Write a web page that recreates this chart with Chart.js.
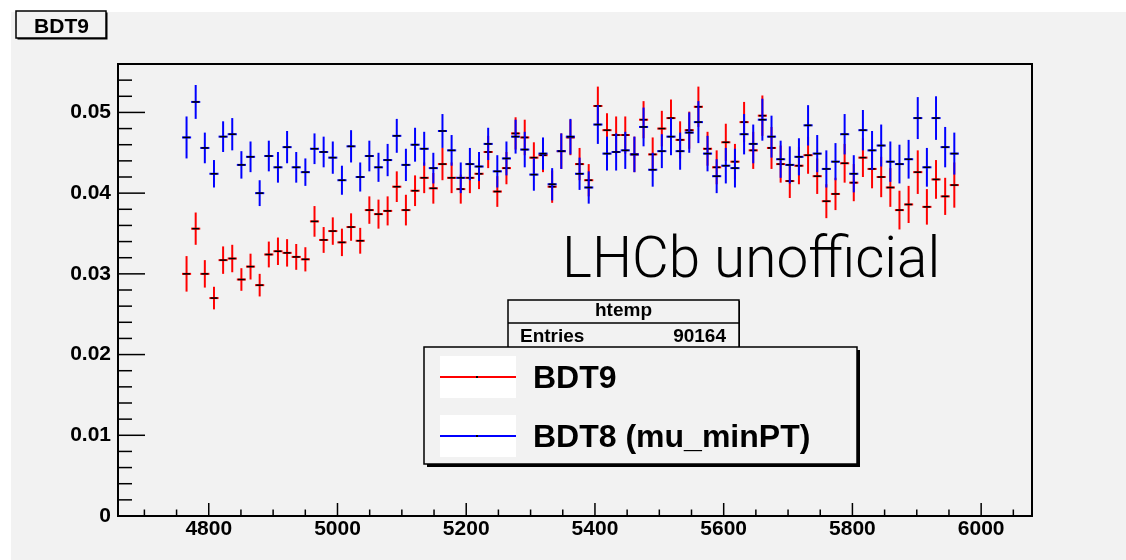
<!DOCTYPE html>
<html>
<head>
<meta charset="utf-8">
<script src="https://cdn.jsdelivr.net/npm/chart.js@4.4.0/dist/chart.umd.min.js"></script>
<style>
  html, body { margin: 0; padding: 0; background: #ffffff; }
  canvas { display: block; }
</style>
</head>
<body>
<canvas id="bdtChart" width="1126" height="560"></canvas>
<script>
// filled bin centres of htemp (100 bins, 4659 .. 6079)
var massBins = [
  4765.5, 4779.7, 4793.9, 4808.1, 4822.3, 4836.5, 4850.7, 4864.9, 4879.1, 4893.3,
  4907.5, 4921.7, 4935.9, 4950.1, 4964.3, 4978.5, 4992.7, 5006.9, 5021.1, 5035.3,
  5049.5, 5063.7, 5077.9, 5092.1, 5106.3, 5120.5, 5134.7, 5148.9, 5163.1, 5177.3,
  5191.5, 5205.7, 5219.9, 5234.1, 5248.3, 5262.5, 5276.7, 5290.9, 5305.1, 5319.3,
  5333.5, 5347.7, 5361.9, 5376.1, 5390.3, 5404.5, 5418.7, 5432.9, 5447.1, 5461.3,
  5475.5, 5489.7, 5503.9, 5518.1, 5532.3, 5546.5, 5560.7, 5574.9, 5589.1, 5603.3,
  5617.5, 5631.7, 5645.9, 5660.1, 5674.3, 5688.5, 5702.7, 5716.9, 5731.1, 5745.3,
  5759.5, 5773.7, 5787.9, 5802.1, 5816.3, 5830.5, 5844.7, 5858.9, 5873.1, 5887.3,
  5901.5, 5915.7, 5929.9, 5944.1, 5958.3
];
var binHalfWidth = 7.1;

// BDT9 (normalised)
var bdt9 = [
  0.0300, 0.0356, 0.0300, 0.0270, 0.0317, 0.0319, 0.0293, 0.0309, 0.0286, 0.0324,
  0.0328, 0.0326, 0.0321, 0.0318, 0.0365, 0.0342, 0.0353, 0.0339, 0.0358, 0.0341,
  0.0379, 0.0374, 0.0378, 0.0408, 0.0379, 0.0403, 0.0419, 0.0406, 0.0436, 0.0419,
  0.0405, 0.0419, 0.0424, 0.0451, 0.0402, 0.0431, 0.0474, 0.0469, 0.0444, 0.0447,
  0.0408, 0.0452, 0.0469, 0.0436, 0.0416, 0.0508, 0.0478, 0.0472, 0.0472, 0.0448,
  0.0491, 0.0448, 0.0480, 0.0493, 0.0466, 0.0478, 0.0507, 0.0455, 0.0432, 0.0463,
  0.0439, 0.0488, 0.0453, 0.0496, 0.0456, 0.0436, 0.0415, 0.0434, 0.0447, 0.0421,
  0.0390, 0.0399, 0.0437, 0.0413, 0.0444, 0.0430, 0.0420, 0.0407, 0.0379, 0.0386,
  0.0426, 0.0383, 0.0417, 0.0396, 0.0410
];
var bdt9Err = [
  0.0022, 0.0020, 0.0017, 0.0014, 0.0017, 0.0017, 0.0014, 0.0016, 0.0014, 0.0016,
  0.0017, 0.0017, 0.0016, 0.0015, 0.0019, 0.0016, 0.0017, 0.0017, 0.0017, 0.0016,
  0.0017, 0.0018, 0.0018, 0.0019, 0.0019, 0.0019, 0.0019, 0.0019, 0.0020, 0.0019,
  0.0018, 0.0019, 0.0019, 0.0020, 0.0019, 0.0020, 0.0020, 0.0022, 0.0019, 0.0021,
  0.0020, 0.0022, 0.0022, 0.0020, 0.0020, 0.0024, 0.0021, 0.0023, 0.0023, 0.0022,
  0.0023, 0.0021, 0.0022, 0.0023, 0.0023, 0.0023, 0.0025, 0.0021, 0.0021, 0.0023,
  0.0022, 0.0025, 0.0023, 0.0025, 0.0026, 0.0023, 0.0021, 0.0023, 0.0023, 0.0022,
  0.0021, 0.0020, 0.0024, 0.0023, 0.0024, 0.0024, 0.0025, 0.0024, 0.0024, 0.0023,
  0.0027, 0.0022, 0.0024, 0.0023, 0.0028
];

// BDT8 (mu_minPT)
var bdt8 = [
  0.0469, 0.0513, 0.0456, 0.0424, 0.0470, 0.0473, 0.0435, 0.0445, 0.0400, 0.0446,
  0.0432, 0.0457, 0.0432, 0.0426, 0.0455, 0.0451, 0.0444, 0.0416, 0.0458, 0.0420,
  0.0446, 0.0432, 0.0441, 0.0471, 0.0435, 0.0460, 0.0455, 0.0431, 0.0477, 0.0453,
  0.0419, 0.0436, 0.0433, 0.0461, 0.0427, 0.0443, 0.0470, 0.0454, 0.0423, 0.0449,
  0.0411, 0.0452, 0.0470, 0.0424, 0.0407, 0.0485, 0.0449, 0.0451, 0.0453, 0.0448,
  0.0482, 0.0429, 0.0452, 0.0470, 0.0452, 0.0475, 0.0488, 0.0449, 0.0421, 0.0434,
  0.0431, 0.0473, 0.0461, 0.0491, 0.0470, 0.0442, 0.0435, 0.0445, 0.0484, 0.0449,
  0.0430, 0.0439, 0.0473, 0.0424, 0.0478, 0.0453, 0.0459, 0.0439, 0.0436, 0.0442,
  0.0493, 0.0432, 0.0493, 0.0457, 0.0449
];
var bdt8Err = [
  0.0026, 0.0021, 0.0019, 0.0017, 0.0019, 0.0020, 0.0017, 0.0019, 0.0016, 0.0019,
  0.0019, 0.0020, 0.0019, 0.0017, 0.0019, 0.0019, 0.0020, 0.0018, 0.0020, 0.0018,
  0.0019, 0.0018, 0.0020, 0.0021, 0.0020, 0.0021, 0.0021, 0.0019, 0.0021, 0.0019,
  0.0019, 0.0020, 0.0018, 0.0020, 0.0020, 0.0021, 0.0021, 0.0022, 0.0020, 0.0020,
  0.0020, 0.0022, 0.0022, 0.0020, 0.0020, 0.0024, 0.0021, 0.0023, 0.0023, 0.0022,
  0.0024, 0.0021, 0.0021, 0.0023, 0.0023, 0.0025, 0.0026, 0.0022, 0.0021, 0.0022,
  0.0024, 0.0025, 0.0024, 0.0026, 0.0026, 0.0023, 0.0023, 0.0023, 0.0025, 0.0023,
  0.0023, 0.0023, 0.0025, 0.0023, 0.0025, 0.0024, 0.0026, 0.0025, 0.0024, 0.0024,
  0.0026, 0.0024, 0.0027, 0.0025, 0.0026
];

var xTickLabels = ['4800', '5000', '5200', '5400', '5600', '5800', '6000'];
var yTickLabels = ['0', '0.01', '0.02', '0.03', '0.04', '0.05'];
var histName = 'htemp';
var histEntries = '90164';

var boldFont = '"Liberation Sans", Arial, Helvetica, sans-serif';

function toPoints(xs, ys) {
  return xs.map(function (x, i) { return { x: x, y: ys[i] }; });
}

function line(c, x1, y1, x2, y2) {
  c.beginPath();
  c.moveTo(x1, y1);
  c.lineTo(x2, y2);
  c.stroke();
}

// box with the little black drop shadow ROOT puts on panes
function shadowBox(c, x, y, w, h, shadow) {
  c.fillStyle = '#000000';
  c.fillRect(x + shadow, y + shadow, w, h);
  c.fillStyle = '#f2f2f2';
  c.fillRect(x, y, w, h);
  c.strokeStyle = '#000000';
  c.lineWidth = 1.5;
  c.strokeRect(x, y, w, h);
}

function drawErrorBars(chart, index) {
  var ds = chart.data.datasets[index];
  var xs = chart.scales.x, ys = chart.scales.y, c = chart.ctx;
  ds.data.forEach(function (p, i) {
    var e = ds.errors[i];
    var px = xs.getPixelForValue(p.x);
    var py = ys.getPixelForValue(p.y);
    c.strokeStyle = ds.borderColor;
    c.lineWidth = 2;
    line(c, px, ys.getPixelForValue(p.y + e), px, ys.getPixelForValue(p.y - e));
    line(c, xs.getPixelForValue(p.x - binHalfWidth), py, xs.getPixelForValue(p.x + binHalfWidth), py);
    c.strokeStyle = '#000000';
    c.lineWidth = 1.5;
    line(c, px - 3.5, py, px + 3.5, py);
  });
}

var rootStyle = {
  id: 'rootStyle',
  beforeDraw: function (chart) {
    var c = chart.ctx;
    c.save();
    c.fillStyle = '#ffffff';
    c.fillRect(0, 0, chart.width, chart.height);
    c.fillStyle = '#f2f2f2';
    c.fillRect(11, 12, chart.width - 11, chart.height - 12);
    c.restore();
  },
  afterDatasetsDraw: function (chart) {
    var c = chart.ctx;
    c.save();
    drawErrorBars(chart, 0);
    drawErrorBars(chart, 1);
    c.restore();
  },
  afterDraw: function (chart) {
    var c = chart.ctx, a = chart.chartArea;
    var xs = chart.scales.x, ys = chart.scales.y;
    c.save();

    // ticks point inwards from the frame
    c.strokeStyle = '#000000';
    c.lineWidth = 1.5;
    ys.ticks.forEach(function (t) {
      var py = ys.getPixelForValue(t.value);
      line(c, a.left, py, a.left + (t.label ? 27 : 14), py);
    });
    xs.ticks.forEach(function (t) {
      var px = xs.getPixelForValue(t.value);
      line(c, px, a.bottom, px, a.bottom - (t.label ? 13 : 6.5));
    });
    c.lineWidth = 2;
    c.strokeRect(a.left, a.top, a.right - a.left, a.bottom - a.top);

    // watermark
    c.fillStyle = '#000000';
    c.font = '300 56.7px Roboto, "Open Sans", sans-serif';
    c.textAlign = 'left';
    c.textBaseline = 'alphabetic';
    c.fillText('LHCb unofficial', 562, 277);

    // stats pane
    shadowBox(c, 508, 300, 231, 50, 1);
    c.lineWidth = 1.5;
    line(c, 508, 323, 739, 323);
    c.fillStyle = '#000000';
    c.font = 'bold 19px ' + boldFont;
    c.textAlign = 'center';
    c.fillText(histName, 623.5, 316);
    c.textAlign = 'left';
    c.fillText('Entries', 520, 342);
    c.textAlign = 'right';
    c.fillText(histEntries, 726, 342);

    // legend
    shadowBox(c, 424, 347, 433, 117, 3);
    c.font = 'bold 32px ' + boldFont;
    c.textAlign = 'left';
    c.textBaseline = 'middle';
    chart.data.datasets.forEach(function (ds, i) {
      var ly = 377 + i * 59;
      c.fillStyle = '#ffffff';
      c.fillRect(440, ly - 21, 76, 42);
      c.strokeStyle = ds.borderColor;
      c.lineWidth = 2;
      line(c, 440, ly, 516, ly);
      c.fillStyle = '#000000';
      c.fillRect(476, ly - 1, 2, 2);
      c.fillText(ds.label, 533, ly + 2);
    });

    // title pane
    shadowBox(c, 16, 11, 90, 27, 1.5);
    c.fillStyle = '#000000';
    c.font = 'bold 21px ' + boldFont;
    c.textAlign = 'center';
    c.textBaseline = 'alphabetic';
    c.fillText('BDT9', 61.5, 33);

    c.restore();
  }
};

var tickFont = { family: boldFont, size: 21, weight: 'bold' };

var chart = new Chart(document.getElementById('bdtChart').getContext('2d'), {
  type: 'scatter',
  data: {
    datasets: [{
      label: 'BDT9',
      data: toPoints(massBins, bdt9),
      errors: bdt9Err,
      borderColor: '#ff0000',
      backgroundColor: '#ff0000',
      pointRadius: 0,
      showLine: false
    }, {
      label: 'BDT8 (mu_minPT)',
      data: toPoints(massBins, bdt8),
      errors: bdt8Err,
      borderColor: '#0000ff',
      backgroundColor: '#0000ff',
      pointRadius: 0,
      showLine: false
    }]
  },
  options: {
    responsive: false,
    animation: false,
    devicePixelRatio: 1,
    layout: { padding: { left: 0, top: 64, right: 94, bottom: 0 } },
    plugins: {
      legend: { display: false },
      tooltip: { enabled: false }
    },
    scales: {
      x: {
        type: 'linear',
        min: 4659,
        max: 6079,
        grid: { display: false, drawTicks: false },
        border: { display: false },
        afterBuildTicks: function (scale) {
          var t = [];
          for (var v = 4700; v <= 6050; v += 50) t.push({ value: v });
          scale.ticks = t;
        },
        afterFit: function (scale) { scale.height = 44; },
        ticks: {
          autoSkip: false,
          maxRotation: 0,
          padding: 1,
          color: '#000000',
          font: tickFont,
          callback: function (v) {
            return xTickLabels.indexOf(String(v)) >= 0 ? String(v) : '';
          }
        }
      },
      y: {
        type: 'linear',
        min: 0,
        max: 0.056,
        grid: { display: false, drawTicks: false },
        border: { display: false },
        afterBuildTicks: function (scale) {
          var t = [];
          for (var i = 0; i <= 28; i++) t.push({ value: i * 2 / 1000 });
          scale.ticks = t;
        },
        afterFit: function (scale) { scale.width = 118; },
        ticks: {
          autoSkip: false,
          padding: 7,
          color: '#000000',
          font: tickFont,
          callback: function (v, i) {
            return i % 5 === 0 ? yTickLabels[i / 5] : '';
          }
        }
      }
    }
  },
  plugins: [rootStyle]
});
</script>
</body>
</html>
